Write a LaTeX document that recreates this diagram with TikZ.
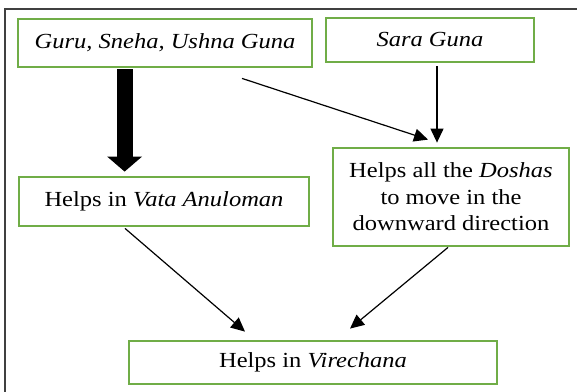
\documentclass[tikz,border=0pt]{standalone}
\usepackage{fontspec}
\setmainfont[FakeStretch=1.14]{Liberation Serif}
\usetikzlibrary{arrows.meta,calc}
\definecolor{boxgreen}{HTML}{70AD47}
\definecolor{framegray}{HTML}{404040}
\begin{document}
\begin{tikzpicture}[x=1pt,y=-1pt,
  gbox/.style={draw=boxgreen,line width=2.8pt,fill=white,inner sep=0pt,align=center,
    font=\fontsize{21.5}{26.5}\selectfont},
  thin/.style={line width=1.2pt,-{Triangle[length=14pt,width=13pt]}},
  thick/.style={line width=16pt,-{Triangle[length=15pt,width=34pt]}}]
\useasboundingbox (0,0) rectangle (577,391);
% outer frame (partially visible)
\draw[framegray,line width=2.4pt] (5,400) -- (5,9) -- (590,9);
\node[gbox,minimum width=294pt,minimum height=48pt] (b1) at (165,43) {\itshape Guru, Sneha, Ushna Guna};
\node[gbox,minimum width=208pt,minimum height=44pt] (b2) at (430,40) {\itshape Sara Guna};
\node[gbox,minimum width=290pt,minimum height=49pt] (b3) at (164,201.5) {Helps in \textit{Vata Anuloman}};
\node[gbox,minimum width=236pt,minimum height=98pt] (b4) at (451,197) {Helps all the \textit{Doshas}\\to move in the\\downward direction};
\node[gbox,minimum width=368pt,minimum height=43pt] (b5) at (313,362.5) {Helps in \textit{Virechana}};
% connectors
\draw[thick] ($(b1.south west)+(108,1)$) -- ($(b3.north west)+(107,-4)$);
\draw[thin] ($(b1.south)+(77,10)$) -- ($(b4.north)+(-23,-7)$);
\draw[thin] ($(b2.south)+(7,3)$) -- ($(b4.north)+(-14,-4)$);
\draw[thin] ($(b3.south)+(-39,1)$) -- ($(b5.north)+(-68,-8)$);
\draw[thin] ($(b4.south)+(-3,0)$) -- ($(b5.north)+(37,-11)$);
\end{tikzpicture}
\end{document}
